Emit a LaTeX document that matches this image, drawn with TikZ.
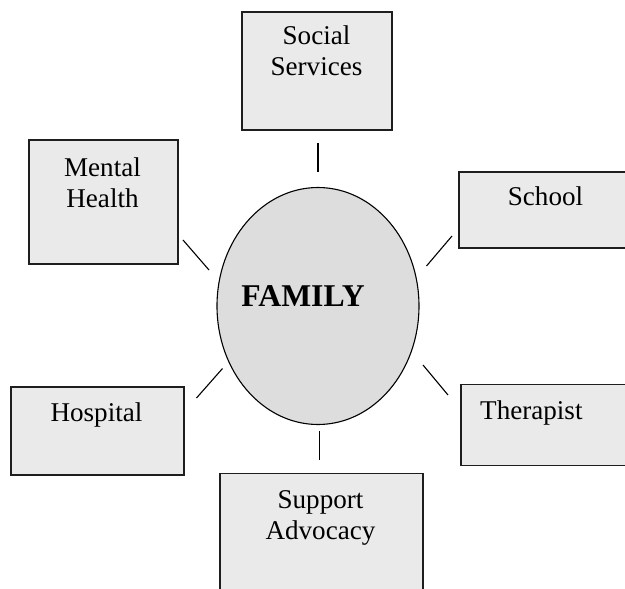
\documentclass[tikz,border=0pt]{standalone}
\usepackage{fontspec}
\setmainfont{Liberation Serif}
\usetikzlibrary{shapes.geometric}
\definecolor{boxfill}{HTML}{EAEAEA}
\definecolor{ovalfill}{HTML}{DDDDDD}
\definecolor{edge}{HTML}{1E1E1E}
\begin{document}
\begin{tikzpicture}[x=1pt,y=-1pt,
  boxshape/.style={draw=edge, line width=1.5pt, fill=boxfill, inner sep=0pt, anchor=north west},
  lbl/.style={font=\fontsize{27.1}{31}\selectfont, align=center, inner sep=0pt, anchor=base},
  famlbl/.style={font=\fontsize{31.7}{36}\selectfont\bfseries, inner sep=0pt, anchor=base},
  link/.style={line width=1.1pt, draw=black}]
\useasboundingbox (0,0) rectangle (625,589);
\clip (0,0) rectangle (625,589);
% boxes
\node[boxshape, minimum width=150pt, minimum height=118pt] (ss) at (241,11) {};
\node[boxshape, line width=2pt, minimum width=149pt, minimum height=124pt] (mh) at (28,139) {};
\node[boxshape, minimum width=175pt, minimum height=76pt] (sch) at (458,171) {};
\node[boxshape, minimum width=173pt, minimum height=88pt] (hos) at (10,386) {};
\node[boxshape, minimum width=200pt, minimum height=81pt] (ther) at (460,383.5) {};
\node[boxshape, minimum width=203pt, minimum height=140pt] (sa) at (219,472.5) {};
% centre
\node[draw=black, line width=1.1pt, fill=ovalfill, ellipse, inner sep=0pt,
      minimum width=202pt, minimum height=237pt] (fam) at (318,306) {};
% labels (base anchor = baseline of last line)
\node[lbl] (sstxt) at (316.5,75) {Social\\Services};
\node[lbl] (mhtxt) at (102.5,207) {Mental\\Health};
\node[lbl] (schtxt) at (545.5,205) {School};
\node[lbl] (hostxt) at (96.5,421) {Hospital};
\node[lbl, anchor=base west] (thertxt) at (480,419) {Therapist};
\node[lbl] (satxt) at (320.5,539) {Support\\Advocacy};
\node[famlbl] (famtxt) at (303,306) {FAMILY};
% connector ends
\coordinate (ss1) at (318,143);   \coordinate (ss2) at (318,172);
\coordinate (mh1) at (183,240);   \coordinate (mh2) at (209,270);
\coordinate (sc1) at (452,236);   \coordinate (sc2) at (426.5,266);
\coordinate (ho1) at (196.5,398); \coordinate (ho2) at (222.5,368.5);
\coordinate (th1) at (423,365);   \coordinate (th2) at (448,395);
\coordinate (sa1) at (319.5,431); \coordinate (sa2) at (319.5,460);
\draw[link] (ss1) -- (ss2);
\draw[link] (mh1) -- (mh2);
\draw[link] (sc1) -- (sc2);
\draw[link] (ho1) -- (ho2);
\draw[link] (th1) -- (th2);
\draw[link] (sa1) -- (sa2);
\end{tikzpicture}
\end{document}
